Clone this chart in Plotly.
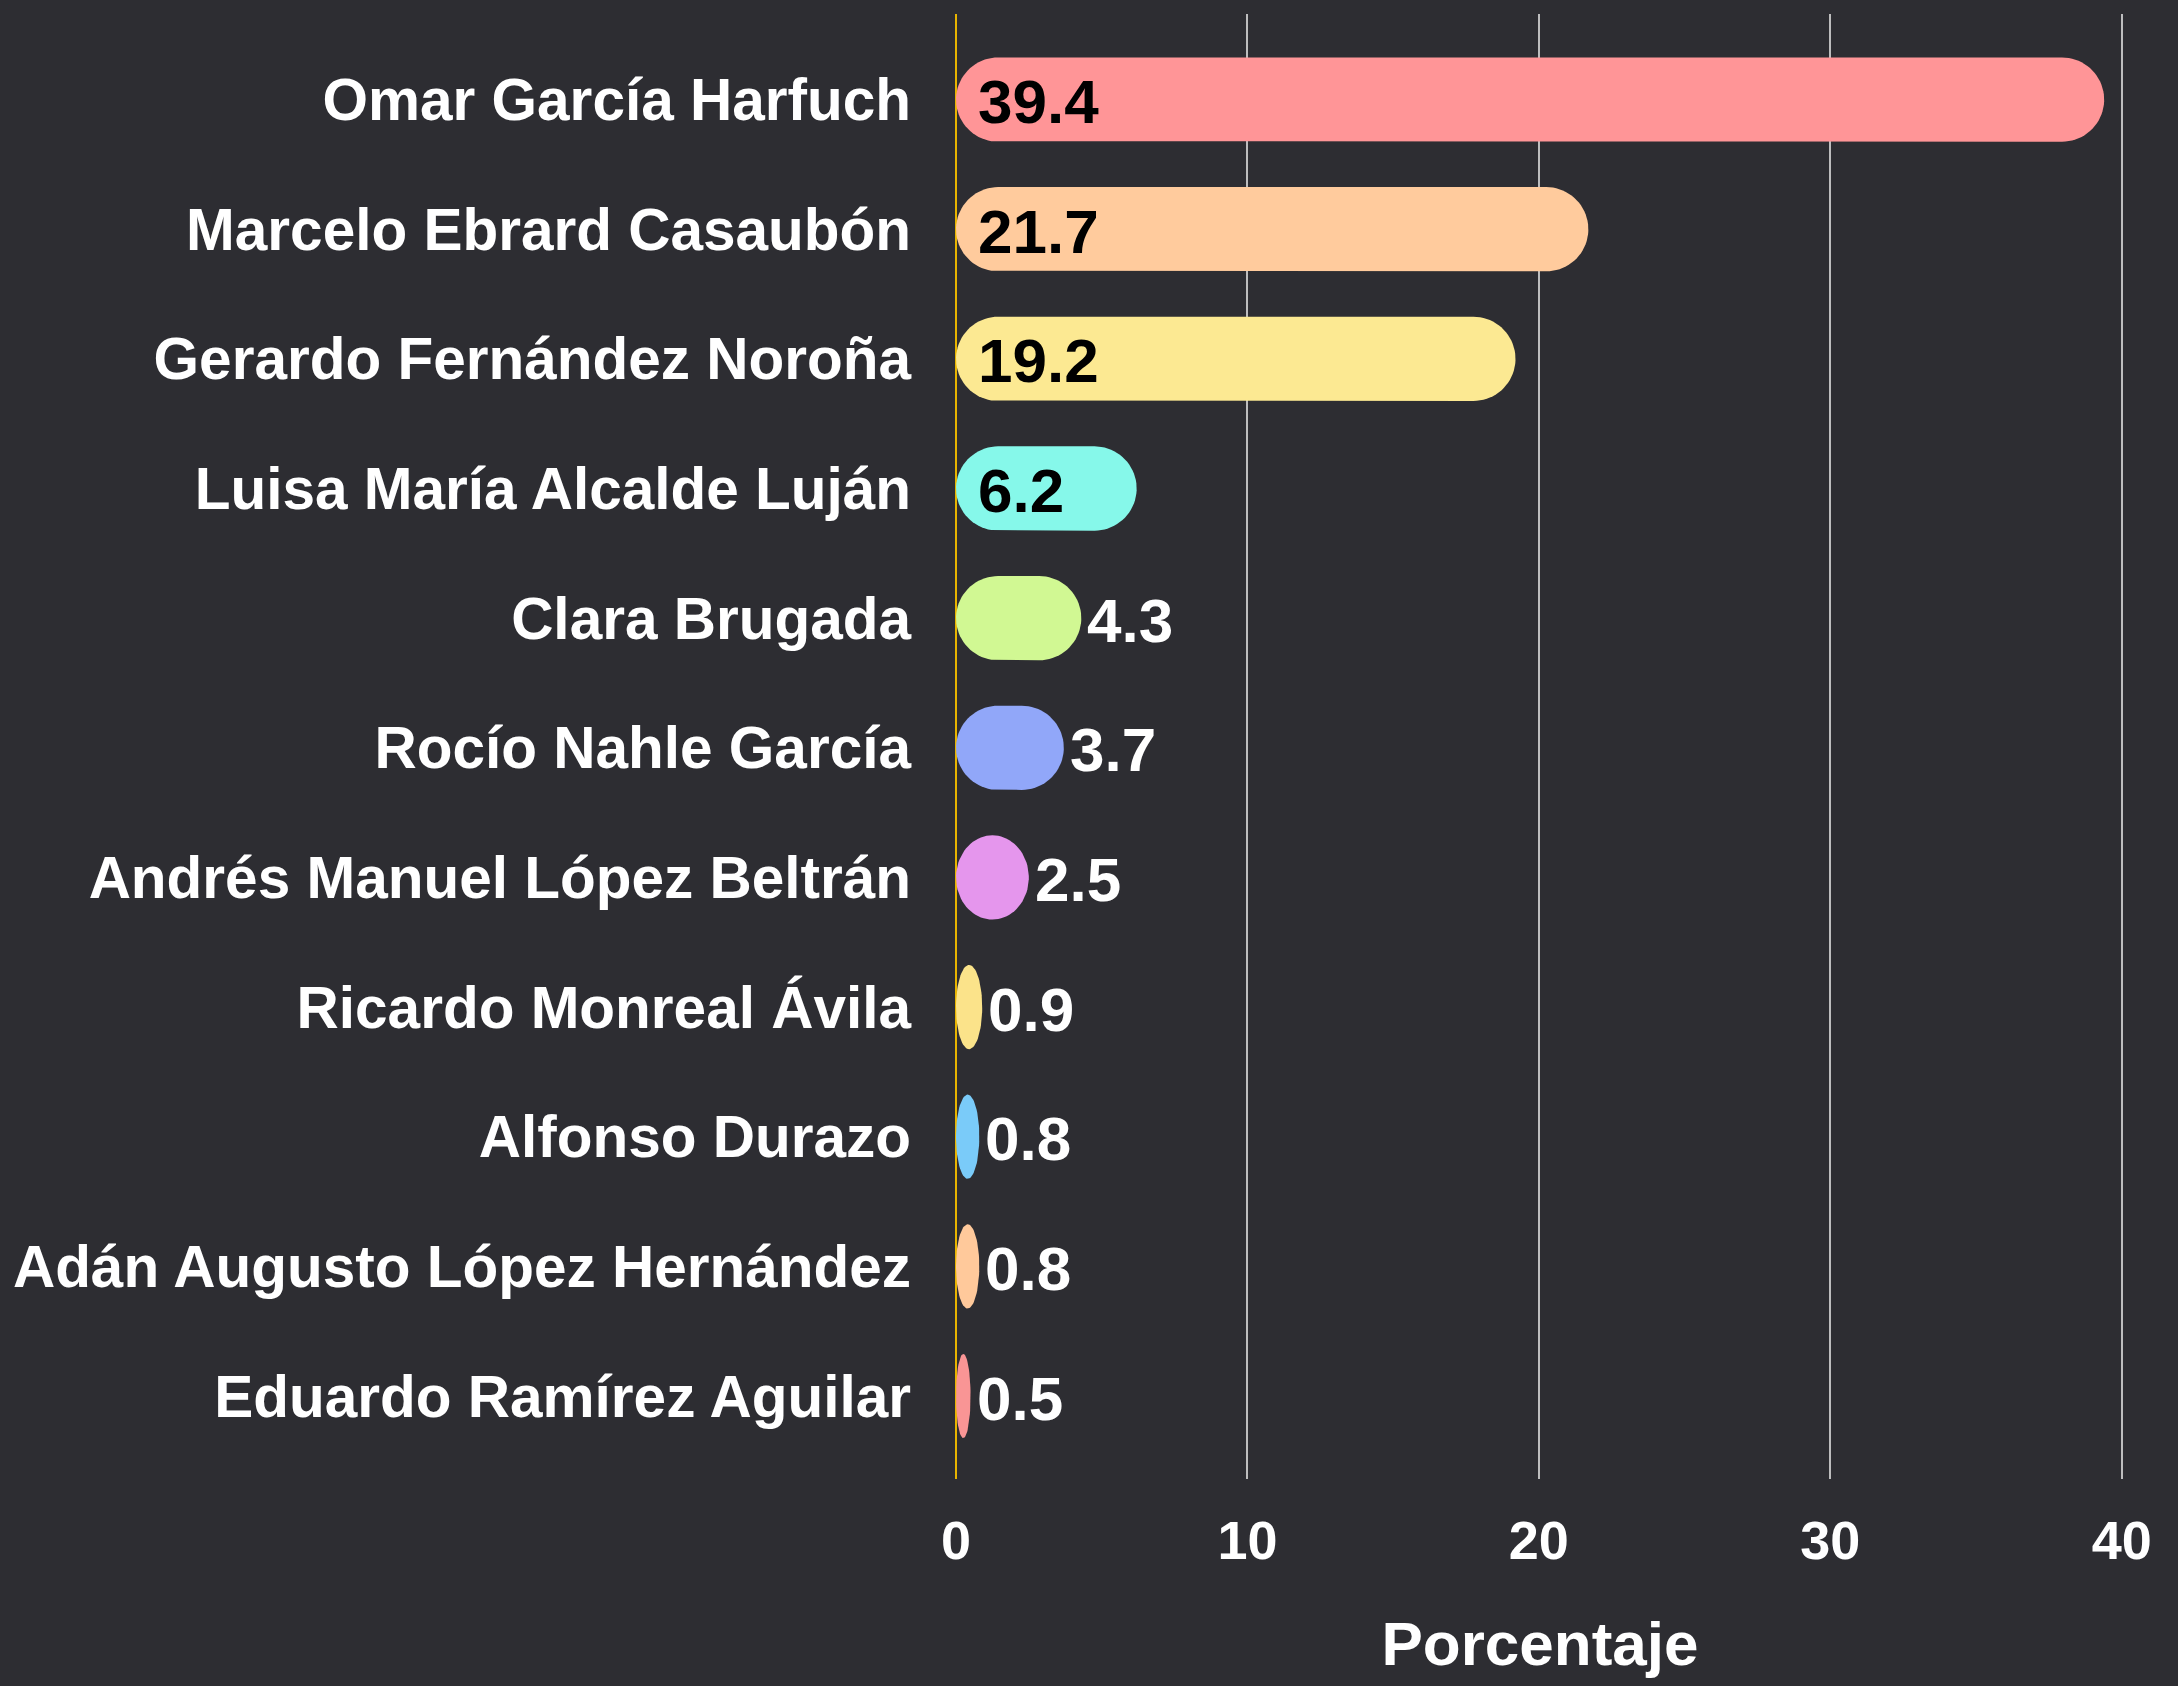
import numpy as np
import plotly.graph_objects as go

# Survey results (percent)
candidatos = [
    "Omar García Harfuch",
    "Marcelo Ebrard Casaubón",
    "Gerardo Fernández Noroña",
    "Luisa María Alcalde Luján",
    "Clara Brugada",
    "Rocío Nahle García",
    "Andrés Manuel López Beltrán",
    "Ricardo Monreal Ávila",
    "Alfonso Durazo",
    "Adán Augusto López Hernández",
    "Eduardo Ramírez Aguilar",
]
porcentajes = [39.4, 21.7, 19.2, 6.2, 4.3, 3.7, 2.5, 0.9, 0.8, 0.8, 0.5]
colores = [
    "#ff9597", "#ffcb9d", "#fce992", "#86f8ea", "#d1f893", "#91a7f9",
    "#e596ed", "#fbe38a", "#7acbf9", "#ffc99b", "#f99595",
]
eje_x_ticks = [0, 10, 20, 30, 40]

# Layout geometry
W, H = 2178, 1686
M = dict(l=956, r=54, t=14, b=207)
X_RANGE = [0, 40.08]
Y_RANGE = [len(candidatos) - 1 + 0.64, -0.66]
BAR_HALF = 0.325  # half bar thickness, in category units

BG = "#2d2d32"
FONT = "Liberation Sans, Arial, Helvetica, sans-serif"

px_per_x = (W - M["l"] - M["r"]) / (X_RANGE[1] - X_RANGE[0])
px_per_y = (H - M["t"] - M["b"]) / abs(Y_RANGE[0] - Y_RANGE[1])


def pill(value, yc):
    """Outline of a bar with rounded ends running from 0 to value."""
    half_px = BAR_HALF * px_per_y
    w_px = value * px_per_x
    rx = min(half_px, w_px / 2) / px_per_x
    ry = BAR_HALF
    t_right = np.linspace(-np.pi / 2, np.pi / 2, 40)
    t_left = np.linspace(np.pi / 2, 3 * np.pi / 2, 40)
    xs = np.concatenate([value - rx + rx * np.cos(t_right), rx + rx * np.cos(t_left)])
    ys = np.concatenate([yc + ry * np.sin(t_right), yc + ry * np.sin(t_left)])
    return np.append(xs, xs[0]), np.append(ys, ys[0])


fig = go.Figure()

for i, (v, c) in enumerate(zip(porcentajes, colores)):
    xs, ys = pill(v, i)
    fig.add_trace(go.Scatter(
        x=xs, y=ys, mode="lines", fill="toself", fillcolor=c,
        line=dict(width=0, color=c), hoverinfo="skip", showlegend=False,
    ))

# Value labels: inside (dark) for wide bars, outside (white) for narrow ones
for i, v in enumerate(porcentajes):
    inside = v >= 6
    fig.add_annotation(
        x=0 if inside else v, y=i, xref="x", yref="y",
        text=f"{v}", showarrow=False,
        xanchor="left", yanchor="middle",
        xshift=20 if inside else 4, yshift=-2,
        font=dict(family=FONT, size=62, color="#000000" if inside else "#ffffff",
                  weight="bold"),
    )

fig.update_layout(
    width=W, height=H,
    margin=M,
    paper_bgcolor=BG, plot_bgcolor=BG,
    font=dict(family=FONT, color="#ffffff"),
    showlegend=False,
    xaxis=dict(
        range=X_RANGE,
        tickvals=eje_x_ticks,
        automargin=False,
        showgrid=True, gridcolor="rgba(215,215,215,0.85)", gridwidth=2,
        zeroline=True, zerolinecolor="#e8b400", zerolinewidth=2,
        showline=False, ticks="",
        tickfont=dict(family=FONT, size=54, color="#ffffff", weight="bold"),
        ticklabelstandoff=25,
        title=dict(text="Porcentaje", standoff=52,
                   font=dict(family=FONT, size=62, color="#ffffff", weight="bold")),
        fixedrange=True,
    ),
    yaxis=dict(
        range=Y_RANGE,
        tickvals=list(range(len(candidatos))),
        ticktext=candidatos,
        automargin=False,
        showgrid=False, zeroline=False, showline=False, ticks="",
        tickfont=dict(family=FONT, size=58.5, color="#ffffff", weight="bold"),
        ticklabelstandoff=44,
        fixedrange=True,
    ),
)

fig.write_html("out.html")
